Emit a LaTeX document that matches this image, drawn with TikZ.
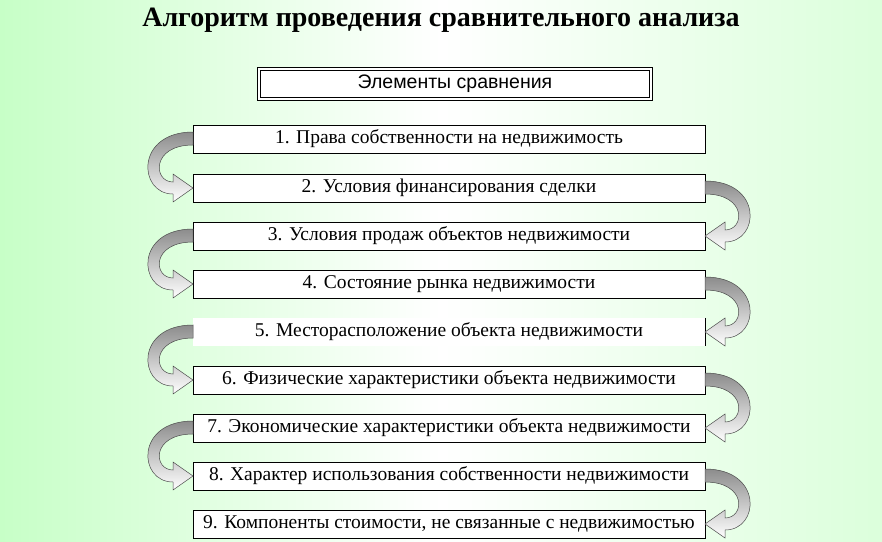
\documentclass[tikz,border=0pt]{standalone}
\usepackage{fontspec}
\setmainfont{Liberation Serif}
\setsansfont{Liberation Sans}
\begin{document}
\begin{tikzpicture}[x=1pt,y=-1pt,
  item/.style={draw=black,fill=white,minimum width=512pt,minimum height=28pt,inner sep=0pt,font=\fontsize{19.5}{21}\selectfont},
  hdr/.style={draw=black,double=white,double distance=2pt,line width=1.2pt,fill=white,minimum width=392pt,minimum height=30pt,inner sep=0pt,font=\sffamily\fontsize{19.5}{21}\selectfont},
  barrow/.style={draw=black!70,line width=0.5pt,top color=black!45,bottom color=white}]
\shade[left color=green!22!white,right color=green!14!white,middle color=white] (0,0) rectangle (882,541);
\useasboundingbox (0,0) rectangle (882,541);
\node[font=\bfseries\fontsize{28}{30}\selectfont] (title) at (441,20) {Алгоритм проведения сравнительного анализа};
\node[hdr] (h) at (455,84) {Элементы сравнения};
\foreach \i/\y/\t in {1/139/{1. Права собственности на недвижимость},
 2/188/{2. Условия финансирования сделки},
 3/236/{3. Условия продаж объектов недвижимости},
 4/284/{4. Состояние рынка недвижимости},
 6/380/{6. Физические характеристики объекта недвижимости},
 7/428/{7. Экономические характеристики объекта недвижимости},
 8/476/{8. Характер использования собственности недвижимости},
 9/524/{9. Компоненты стоимости, не связанные с недвижимостью}}
 {\node[item] (b\i) at (449,\y) {\t};}
\node[item,draw=none] (b5) at (449,332) {5. Месторасположение объекта недвижимости};
\draw (b5.north east) -- (b5.south east);
% curved block arrows
\foreach \ya/\yb/\e/\s in {139/188/193/1, 236/284/193/1, 332/380/193/1, 428/476/193/1,
  188/236/705/-1, 284/332/705/-1, 380/428/705/-1, 476/524/705/-1}{
 \path[barrow] (\e,\ya-7) .. controls ({\e-\s*58},\ya-7) and ({\e-\s*55},\yb+6) .. ({\e-\s*20},\yb+6)
   -- ({\e-\s*20},\yb+14) -- (\e,\yb) -- ({\e-\s*20},\yb-14) -- ({\e-\s*20},\yb-6)
   .. controls ({\e-\s*40},\yb-6) and ({\e-\s*42},\ya+6) .. (\e,\ya+6) -- cycle;
}
\end{tikzpicture}
\end{document}
